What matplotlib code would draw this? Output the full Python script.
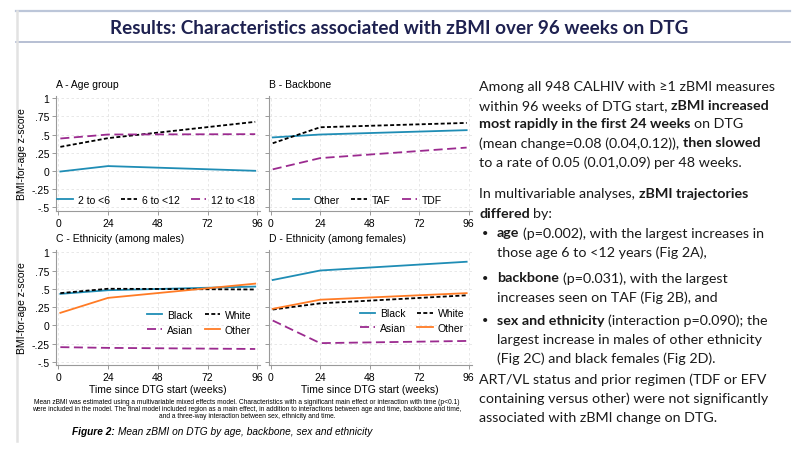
import matplotlib
matplotlib.use("Agg")
import matplotlib.pyplot as plt
from matplotlib.lines import Line2D

W, H = 805, 477

# --- data ---
weeks = [1, 24, 95]
ticks_x = [0, 24, 48, 72, 96]
ticks_y = [-0.5, -0.25, 0, 0.25, 0.5, 0.75, 1]
ticklabels_y = ["-.5", "-.25", "0", ".25", ".5", ".75", "1"]

age_labels = ["2 to <6", "6 to <12", "12 to <18"]
age_2_6 = [-0.01, 0.065, 0.0]
age_6_12 = [0.33, 0.45, 0.675]
age_12_18 = [0.445, 0.50, 0.505]

backbone_labels = ["Other", "TAF", "TDF"]
bb_other = [0.46, 0.50, 0.56]
bb_taf = [0.38, 0.60, 0.66]
bb_tdf = [0.02, 0.175, 0.32]

eth_labels = ["Black", "White", "Asian", "Other"]
male_black = [0.43, 0.48, 0.53]
male_white = [0.44, 0.50, 0.49]
male_asian = [-0.30, -0.31, -0.325]
male_other = [0.17, 0.375, 0.57]

female_black = [0.62, 0.75, 0.87]
female_white = [0.215, 0.30, 0.41]
female_asian = [0.065, -0.245, -0.215]
female_other = [0.225, 0.35, 0.44]

TEAL = "#1f8db5"
PURPLE = "#9b2a8f"
ORANGE = "#ff7b25"
AXC = "#9a9a9a"
SHORT = (0, (2.2, 1.3))
LONG = (0, (5, 2.5))

FS = 7.5
SANS = ["Liberation Sans", "DejaVu Sans"]
BODY = ["Lato", "DejaVu Sans"]
plt.rcParams["font.family"] = SANS

fig = plt.figure(figsize=(W / 100, H / 100), dpi=100)
fig.patch.set_facecolor("white")


def px_axes(left, top, right, bottom):
    return fig.add_axes([left / W, 1 - bottom / H, (right - left) / W, (bottom - top) / H])


def style_axes(ax, title, show_ylabels, show_xlabel):
    ax.set_xlim(-1, 97.5)
    ax.set_ylim(-0.55, 1.035)
    ax.set_xticks(ticks_x)
    ax.set_yticks(ticks_y)
    ax.set_yticklabels(ticklabels_y if show_ylabels else [""] * len(ticks_y))
    for s in ["top", "right"]:
        ax.spines[s].set_visible(False)
    for s in ["left", "bottom"]:
        ax.spines[s].set_color(AXC)
        ax.spines[s].set_linewidth(0.8)
    ax.tick_params(direction="out", length=3, width=0.7, color=AXC, labelsize=FS, pad=2)
    ax.grid(True, color="#e4e4e4", linestyle=(0, (3, 3)), linewidth=0.6)
    ax.set_axisbelow(True)
    ax.text(0, 1.06, title, transform=ax.transAxes, fontsize=FS, ha="left", va="bottom")
    if show_xlabel:
        ax.set_xlabel("Time since DTG start (weeks)", fontsize=FS, labelpad=1)


def leg(ax, handles, labels, ncol, anchor):
    ax.legend(handles, labels, ncol=ncol, loc="center", bbox_to_anchor=anchor, frameon=False,
              fontsize=FS, handlelength=1.5, handletextpad=0.45, columnspacing=1.1,
              labelspacing=0.45, borderpad=0, borderaxespad=0)


lw = 1.3

# A - Age group
axA = px_axes(56.2, 96.7, 260.4, 211.7)
style_axes(axA, "A - Age group", True, False)
la, = axA.plot(weeks, age_2_6, color=TEAL, lw=lw)
lb, = axA.plot(weeks, age_6_12, color="black", lw=lw, linestyle=SHORT)
lc, = axA.plot(weeks, age_12_18, color=PURPLE, lw=lw, linestyle=LONG)
leg(axA, [la, lb, lc], age_labels, 3, (0.49, 0.096))

# B - Backbone
axB = px_axes(268.6, 96.7, 471.8, 211.7)
style_axes(axB, "B - Backbone", False, False)
la, = axB.plot(weeks, bb_other, color=TEAL, lw=lw)
lb, = axB.plot(weeks, bb_taf, color="black", lw=lw, linestyle=SHORT)
lc, = axB.plot(weeks, bb_tdf, color=PURPLE, lw=lw, linestyle=LONG)
leg(axB, [la, lb, lc], backbone_labels, 3, (0.487, 0.096))

# C - Ethnicity (males)
axC = px_axes(56.2, 250.7, 260.4, 366.4)
style_axes(axC, "C - Ethnicity (among males)", True, True)
l1, = axC.plot(weeks, male_black, color=TEAL, lw=lw)
l2, = axC.plot(weeks, male_white, color="black", lw=lw, linestyle=SHORT)
l3, = axC.plot(weeks, male_asian, color=PURPLE, lw=lw, linestyle=LONG)
l4, = axC.plot(weeks, male_other, color=ORANGE, lw=lw)
leg(axC, [l1, l3, l2, l4], [eth_labels[0], eth_labels[2], eth_labels[1], eth_labels[3]], 2, (0.70, 0.372))

# D - Ethnicity (females)
axD = px_axes(268.6, 250.7, 471.8, 366.4)
style_axes(axD, "D - Ethnicity (among females)", False, True)
l1, = axD.plot(weeks, female_black, color=TEAL, lw=lw)
l2, = axD.plot(weeks, female_white, color="black", lw=lw, linestyle=SHORT)
l3, = axD.plot(weeks, female_asian, color=PURPLE, lw=lw, linestyle=LONG)
l4, = axD.plot(weeks, female_other, color=ORANGE, lw=lw)
leg(axD, [l1, l3, l2, l4], [eth_labels[0], eth_labels[2], eth_labels[1], eth_labels[3]], 2, (0.706, 0.387))

for yc in [154.2, 308.5]:
    fig.text(22 / W, 1 - yc / H, "BMI-for-age z-score", rotation=90, fontsize=FS, ha="center", va="center")

# slide decorations
fig.add_artist(Line2D([16 / W, 790 / W], [1 - 11.7 / H, 1 - 11.7 / H], color="#bcc6d9", lw=1.6))
fig.add_artist(Line2D([16 / W, 790 / W], [1 - 43.3 / H, 1 - 43.3 / H], color="#aab4cc", lw=1.2))
fig.add_artist(Line2D([16.5 / W, 16.5 / W], [1 - 11.7 / H, 1 - 442 / H], color="#e2e2e2", lw=1.8))
fig.text(399 / W, 1 - 28 / H, "Results: Characteristics associated with zBMI over 96 weeks on DTG",
         fontsize=13.6, fontweight="bold", color="#1e2150", family=BODY, ha="center", va="center")

# caption under the panels
caption = [
    "Mean zBMI was estimated using a multivariable mixed effects model. Characteristics with a significant main effect or interaction with time (p<0.1)",
    "were included in the model. The final model included region as a main effect, in addition to interactions between age and time, backbone and time,",
    "and a three-way interaction between sex, ethnicity and time.",
]
for i, line in enumerate(caption):
    fig.text(247 / W, 1 - (403 + 7 * i) / H, line, fontsize=4.8, ha="center", va="center")

renderer = fig.canvas.get_renderer()


def width_of(txt, size, weight, style="normal", family=BODY):
    t = fig.text(0, 0, txt, fontsize=size, fontweight=weight, fontstyle=style, family=family)
    w = t.get_window_extent(renderer=renderer).width
    t.remove()
    return w


def draw_parts(x, y, parts, size, family=BODY, style="normal", color="#1a1a1a"):
    for txt, bold in parts:
        weight = "bold" if bold else "normal"
        sp = width_of("x x", size, weight, style, family) - width_of("xx", size, weight, style, family)
        lead = len(txt) - len(txt.lstrip(" "))
        trail = len(txt) - len(txt.rstrip(" "))
        x += lead * sp
        core = txt.strip(" ")
        t = fig.text(x / W, 1 - y / H, core, fontsize=size, fontweight=weight, fontstyle=style,
                     family=family, color=color, ha="left", va="center")
        x += t.get_window_extent(renderer=renderer).width + trail * sp


draw_parts(72, 432, [("Figure 2:", True), (" Mean zBMI on DTG by age, backbone, sex and ethnicity", False)],
           7.3, family=SANS, style="italic", color="black")

# right-hand text
BS = 10.3
TX, BX, BT = 479, 485, 497
body = [
    (TX, 87, [("Among all 948 CALHIV with \u22651 zBMI measures", False)]),
    (TX, 106, [("within 96 weeks of DTG start, ", False), ("zBMI increased", True)]),
    (TX, 124.5, [("most rapidly in the first 24 weeks", True), (" on DTG", False)]),
    (TX, 143.5, [("(mean change=0.08 (0.04,0.12)), ", False), ("then slowed", True)]),
    (TX, 162.5, [("to a rate of 0.05 (0.01,0.09) per 48 weeks.", False)]),
    (TX, 194.5, [("In multivariable analyses, ", False), ("zBMI trajectories", True)]),
    (TX, 214, [("differed", True), (" by:", False)]),
    (BT, 233.5, [("age", True), (" (p=0.002), with the largest increases in", False)]),
    (BT, 252.5, [("those age 6 to <12 years (Fig 2A),", False)]),
    (BT, 278.5, [("backbone", True), (" (p=0.031), with the largest", False)]),
    (BT, 297.5, [("increases seen on TAF (Fig 2B), and", False)]),
    (BT, 321, [("sex and ethnicity", True), (" (interaction p=0.090); the", False)]),
    (BT, 340, [("largest increase in males of other ethnicity", False)]),
    (BT, 359, [("(Fig 2C) and black females (Fig 2D).", False)]),
    (TX, 380, [("ART/VL status and prior regimen (TDF or EFV", False)]),
    (TX, 399, [("containing versus other) were not significantly", False)]),
    (TX, 418, [("associated with zBMI change on DTG.", False)]),
]
for x, y, parts in body:
    draw_parts(x, y, parts, BS)
for y in [233.5, 278.5, 321]:
    fig.text(BX / W, 1 - y / H, "\u2022", fontsize=8, family=BODY, color="#1a1a1a", ha="center", va="center")

fig.savefig("out.png", dpi=100)
